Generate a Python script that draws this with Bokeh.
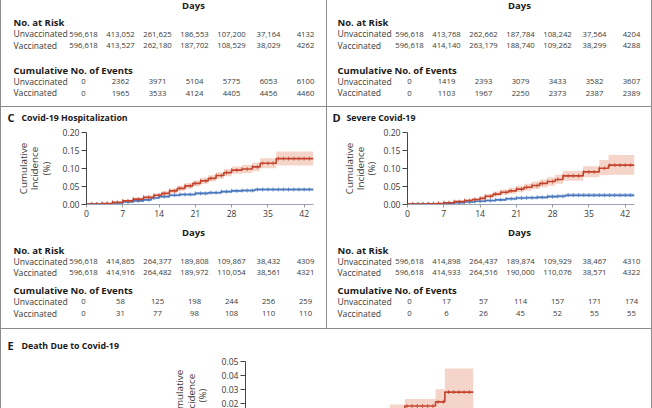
import math
from bokeh.plotting import figure
from bokeh.layouts import row, column
from bokeh.models import Range1d, FixedTicker, NumeralTickFormatter, Spacer
from bokeh.core.properties import value
from bokeh.embed import file_html
from bokeh.resources import INLINE

FONT = "Open Sans"

RED = "#c4432c"
BLUE = "#4b78bd"
RED_BAND = "#f5d5ca"
BLUE_BAND = "#c3d4ee"
RULE = "#8c8c8c"
TXT = "#3a3a3a"
HEAD = "#1a1a1a"

day_ticks = [0, 7, 14, 21, 28, 35, 42]
c_yticks = [0.0, 0.05, 0.10, 0.15, 0.20]
e_yticks = [0.02, 0.03, 0.04, 0.05]
ylabel_lines = ["Cumulative", "Incidence", "(%)"]
censor_days = list(range(1, 44))

# ---------------- tables ----------------
a_risk_unvacc = [596618, 413052, 261625, 186553, 107200, 37164, 4132]
a_risk_vacc = [596618, 413527, 262180, 187702, 108529, 38029, 4262]
a_ev_unvacc = [0, 2362, 3971, 5104, 5775, 6053, 6100]
a_ev_vacc = [0, 1965, 3533, 4124, 4405, 4456, 4460]

b_risk_unvacc = [596618, 413768, 262662, 187784, 108242, 37564, 4204]
b_risk_vacc = [596618, 414140, 263179, 188740, 109262, 38299, 4288]
b_ev_unvacc = [0, 1419, 2393, 3079, 3433, 3582, 3607]
b_ev_vacc = [0, 1103, 1967, 2250, 2373, 2387, 2389]

c_risk_unvacc = [596618, 414865, 264377, 189808, 109867, 38432, 4309]
c_risk_vacc = [596618, 414916, 264482, 189972, 110054, 38561, 4321]
c_ev_unvacc = [0, 58, 125, 198, 244, 256, 259]
c_ev_vacc = [0, 31, 77, 98, 108, 110, 110]

d_risk_unvacc = [596618, 414898, 264437, 189874, 109929, 38467, 4310]
d_risk_vacc = [596618, 414933, 264516, 190000, 110076, 38571, 4322]
d_ev_unvacc = [0, 17, 57, 114, 157, 171, 174]
d_ev_vacc = [0, 6, 26, 45, 52, 55, 55]

# ---------------- curves ----------------
c_red_days = [0, 3, 5, 7, 9, 11, 13, 14.5, 16, 17.5, 19, 20.5, 22, 23.5, 25, 26.5, 28, 30, 32, 33.5, 36.6, 43.8]
c_red_val = [0, .002, .005, .009, .014, .019, .025, .030, .037, .044, .051, .058, .065, .072, .080, .088, .095, .098, .104, .114, .127, .127]
c_red_up = [0, .003, .007, .012, .018, .024, .030, .036, .044, .051, .059, .066, .074, .081, .089, .098, .105, .109, .116, .128, .147, .147]
c_red_lo = [0, .001, .003, .006, .010, .014, .020, .024, .030, .037, .043, .050, .056, .063, .071, .078, .085, .087, .092, .100, .108, .108]

c_blue_days = [0, 3, 5, 7, 9, 11, 12.5, 14, 16, 18, 21, 23.5, 26, 28, 30, 32.5, 43.8]
c_blue_val = [0, .001, .003, .006, .009, .012, .017, .021, .025, .027, .030, .032, .035, .037, .038, .041, .041]
c_blue_up = [0, .002, .005, .008, .012, .015, .020, .025, .029, .031, .034, .036, .039, .041, .042, .045, .045]
c_blue_lo = [0, 0, .002, .004, .007, .009, .014, .018, .021, .023, .026, .028, .031, .033, .034, .037, .037]

d_red_days = [0, 4, 5.5, 7, 9, 11, 12.5, 14, 15, 16.5, 18, 19.5, 21, 22.5, 24, 25.5, 27, 28.5, 30, 33.9, 37, 38.8, 43.8]
d_red_val = [0, .001, .002, .004, .007, .010, .013, .016, .022, .028, .033, .037, .042, .047, .052, .058, .063, .069, .079, .090, .100, .109, .109]
d_red_up = [0, .002, .004, .007, .011, .014, .018, .022, .028, .035, .041, .046, .051, .057, .063, .069, .075, .082, .093, .106, .123, .137, .137]
d_red_lo = [0, 0, .001, .002, .004, .006, .008, .011, .016, .021, .026, .029, .033, .038, .042, .047, .051, .057, .065, .075, .081, .082, .082]

d_blue_days = [0, 5, 7, 9, 11, 13, 15, 17, 19, 21, 23, 25, 27, 29, 30.5, 43.8]
d_blue_val = [0, .001, .002, .004, .006, .008, .010, .012, .015, .017, .018, .019, .021, .022, .025, .025]
d_blue_up = [0, .002, .004, .006, .009, .011, .013, .016, .019, .021, .022, .023, .026, .027, .030, .030]
d_blue_lo = [0, 0, .001, .002, .004, .005, .007, .009, .011, .013, .014, .015, .017, .018, .020, .020]

e_red_days = [0, 7, 10, 14, 17, 20, 23, 27.7, 30.6, 36.5, 38.3, 43.8]
e_red_val = [0, .001, .002, .004, .006, .009, .012, .015, .018, .021, .028, .028]
e_red_up = [0, .002, .004, .007, .010, .013, .016, .019, .023, .030, .045, .045]
e_red_lo = [0, 0, .001, .002, .003, .005, .008, .011, .013, .014, .016, .016]

e_blue_days = [0, 10, 20, 30, 43.8]
e_blue_val = [0, .002, .004, .006, .007]
e_blue_up = [0, .004, .006, .008, .009]
e_blue_lo = [0, .001, .002, .004, .005]


def fmt(n):
    return f"{n:,}" if n >= 10000 else str(n)


def text_fig(w, h):
    p = figure(width=w, height=h, x_range=Range1d(0, w), y_range=Range1d(h, 0),
               x_axis_location=None, y_axis_location=None, min_border=0, frame_align=False,
               toolbar_location=None, output_backend="svg")
    p.grid.visible = False
    p.outline_line_color = None
    return p


def add_text(p, xs, ys, ts, size="9px", bold=False, color=TXT, align="left", angle=0.0):
    p.text(x=xs, y=ys, text=ts, text_font=value(FONT), text_font_size=size,
           text_font_style="bold" if bold else "normal", text_color=color,
           text_align=align, text_baseline="middle", angle=angle)


def table(w, h, lx, ys, ru, rv, eu, ev):
    p = text_fig(w, h)
    cols = [82 + 37 * i for i in range(len(day_ticks))]
    add_text(p, [192], [ys[0]], ["Days"], size="9.5px", bold=True, color=HEAD, align="center")
    add_text(p, [lx], [ys[1]], ["No. at Risk"], size="9.5px", bold=True, color=HEAD)
    add_text(p, [lx, lx], [ys[2], ys[3]], ["Unvaccinated", "Vaccinated"], size="8.6px")
    add_text(p, cols, [ys[2]] * 7, [fmt(v) for v in ru], size="7.7px", align="center")
    add_text(p, cols, [ys[3]] * 7, [fmt(v) for v in rv], size="7.7px", align="center")
    add_text(p, [lx], [ys[4]], ["Cumulative No. of Events"], size="9.5px", bold=True, color=HEAD)
    add_text(p, [lx, lx], [ys[5], ys[6]], ["Unvaccinated", "Vaccinated"], size="8.6px")
    add_text(p, cols, [ys[5]] * 7, [fmt(v) for v in eu], size="7.7px", align="center")
    add_text(p, cols, [ys[6]] * 7, [fmt(v) for v in ev], size="7.7px", align="center")
    return p


def header(w, h, lx, y, letter, title):
    p = text_fig(w, h)
    add_text(p, [lx], [y], [letter], size="11px", bold=True, color=HEAD)
    add_text(p, [lx + 14], [y], [title], size="8.8px", bold=True, color=HEAD)
    return p


def ylabel_fig(w, h, xs, yc):
    p = text_fig(w, h)
    add_text(p, xs, [yc] * 3, ylabel_lines, size="9.8px", align="center", angle=math.pi / 2)
    return p


def step_at(days, vals, d):
    v = vals[0]
    for dd, vv in zip(days, vals):
        if dd <= d:
            v = vv
    return v


def curves(p, red, blue):
    p.varea_step(x=blue[0], y1=blue[3], y2=blue[2], step_mode="after", fill_color=BLUE_BAND)
    p.varea_step(x=red[0], y1=red[3], y2=red[2], step_mode="after", fill_color=RED_BAND)
    for s, col in ((blue, BLUE), (red, RED)):
        p.step(s[0], s[1], mode="after", line_color=col, line_width=1.6)
        cy = [step_at(s[0], s[1], d) for d in censor_days]
        p.scatter(censor_days, cy, marker="dash", angle=math.pi / 2, size=4,
                  line_color=col, line_width=0.8)


def style_y(p, ticks):
    ax = p.yaxis[0]
    ax.ticker = FixedTicker(ticks=ticks)
    ax.formatter = NumeralTickFormatter(format="0.00")
    ax.axis_line_color = "#444444"
    ax.major_tick_line_color = "#444444"
    ax.major_tick_out = 5
    ax.major_tick_in = 0
    ax.minor_tick_line_color = None
    ax.major_label_standoff = 2
    ax.major_label_text_font = FONT
    ax.major_label_text_font_size = "8.6px"
    ax.major_label_text_color = TXT


def chart(w, h, mbl, mbr, mbt, mbb, red, blue):
    p = figure(width=w, height=h, x_range=Range1d(0, 43.8), y_range=Range1d(-0.001, 0.2),
               min_border_left=mbl, min_border_right=mbr, min_border_top=mbt, min_border_bottom=mbb,
               frame_align=False, toolbar_location=None, output_backend="svg")
    p.grid.visible = False
    p.outline_line_color = None
    curves(p, red, blue)
    style_y(p, c_yticks)
    xa = p.xaxis[0]
    xa.ticker = FixedTicker(ticks=day_ticks)
    xa.axis_line_color = "#9aa3b3"
    xa.major_tick_line_color = "#9a9a9a"
    xa.major_tick_out = 3
    xa.major_tick_in = 0
    xa.minor_tick_line_color = None
    xa.major_label_standoff = 2
    xa.major_label_text_font = FONT
    xa.major_label_text_font_size = "8.6px"
    xa.major_label_text_color = TXT
    return p


def chart_e(w, h, mbl, mbr, mbt):
    p = figure(width=w, height=h, x_range=Range1d(0, 43.8), y_range=Range1d(0.0162, 0.05),
               min_border_left=mbl, min_border_right=mbr, min_border_top=mbt, min_border_bottom=0,
               x_axis_location=None, frame_align=False, toolbar_location=None, output_backend="svg")
    p.grid.visible = False
    p.outline_line_color = None
    curves(p, (e_red_days, e_red_val, e_red_up, e_red_lo), (e_blue_days, e_blue_val, e_blue_up, e_blue_lo))
    style_y(p, e_yticks)
    return p


def vline(h):
    return Spacer(width=1, height=h, styles={"background-color": RULE})


def hline(w):
    return Spacer(width=w, height=1, styles={"background-color": RULE})


top_ys = [5, 22, 33.5, 45, 70, 81, 92.5]
bot_ys = [10, 28, 39, 50, 68, 79, 91]

tA = table(325, 106, 12, top_ys, a_risk_unvacc, a_risk_vacc, a_ev_unvacc, a_ev_vacc)
tB = table(324, 106, 10, top_ys, b_risk_unvacc, b_risk_vacc, b_ev_unvacc, b_ev_vacc)

hC = header(325, 18, 6, 10, "C", "Covid-19 Hospitalization")
lC = ylabel_fig(57, 97, [22, 33, 45], 43)
cC = chart(268, 97, 28, 13, 7, 18,
           (c_red_days, c_red_val, c_red_up, c_red_lo),
           (c_blue_days, c_blue_val, c_blue_up, c_blue_lo))
tC = table(325, 106, 12, bot_ys, c_risk_unvacc, c_risk_vacc, c_ev_unvacc, c_ev_vacc)

hD = header(324, 18, 5, 10, "D", "Severe Covid-19")
lD = ylabel_fig(53, 97, [22, 32.5, 44], 43)
cD = chart(271, 97, 27, 17, 7, 18,
           (d_red_days, d_red_val, d_red_up, d_red_lo),
           (d_blue_days, d_blue_val, d_blue_up, d_blue_lo))
tD = table(324, 106, 10, bot_ys, d_risk_unvacc, d_risk_vacc, d_ev_unvacc, d_ev_vacc)

hE = header(650, 23, 6, 16, "E", "Death Due to Covid-19")
lE = ylabel_fig(214, 56, [178, 189.5, 201], 43)
cE = chart_e(436, 56, 30, 178, 9)

inner = column(
    row(tA, vline(106), tB),
    hline(650),
    row(column(hC, row(lC, cC), tC), vline(221), column(hD, row(lD, cD), tD)),
    hline(650),
    column(hE, row(lE, cE)),
)
page = row(vline(408), inner, vline(408))

open("out.html", "w").write(file_html(page, INLINE))
